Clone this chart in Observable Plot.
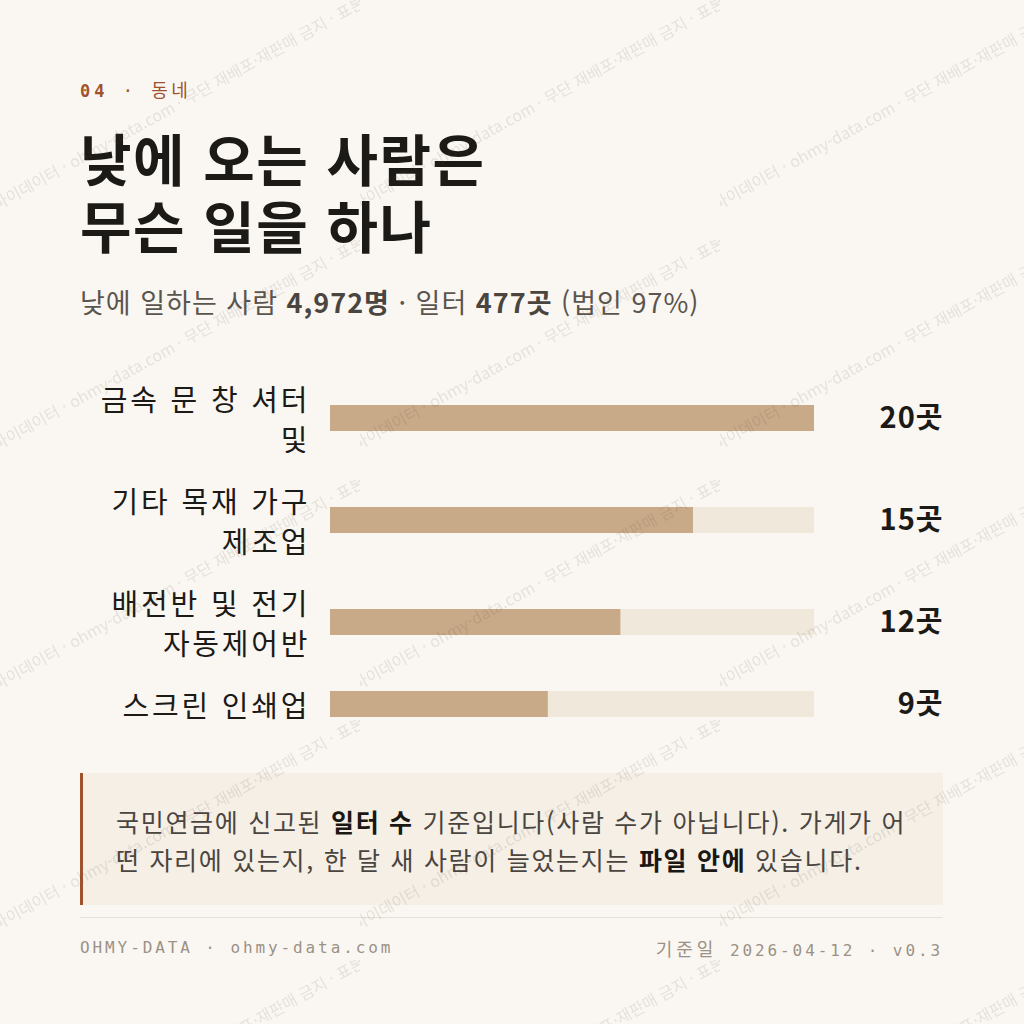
<!DOCTYPE html>
<html lang="ko"><head><meta charset="utf-8">
<script src="https://cdn.jsdelivr.net/npm/d3@7"></script>
<script src="https://cdn.jsdelivr.net/npm/@observablehq/plot@0.6"></script>
<style>
html,body{margin:0;padding:0}
body{width:1024px;height:1024px;background:#faf7f2;font-family:"Noto Sans CJK KR","Noto Sans",sans-serif;position:relative;overflow:hidden;color:#1c1a17}
.abs{position:absolute}
#kicker{left:80px;top:76px;font-size:17px;line-height:26px;color:#a0522d;font-family:"DejaVu Sans Mono",monospace;letter-spacing:4px;white-space:nowrap}
#kicker b{font-weight:700}
#kicker .ko{font-family:"Noto Sans CJK KR",sans-serif;font-weight:400;font-size:18px;letter-spacing:3.5px}
#title{left:80px;top:123px;font-size:56px;line-height:67px;font-weight:700;margin:0;color:#1c1a17;letter-spacing:1.5px}
#sub{left:80px;top:283px;font-size:27px;line-height:38px;color:#5a554e;white-space:nowrap;letter-spacing:1px}
#sub b{color:#4a453f;font-weight:700}
#chart{left:0;top:367px}
#note{left:80px;top:773px;width:863px;height:132px;box-sizing:border-box;background:#f5efe6;border-left:3px solid #a0522d;padding:29px 26px 0 33px;font-size:25px;line-height:38px;color:#4a4540;word-break:break-all;letter-spacing:1.7px}
#note b{color:#1a1714;font-weight:700}
#rule{left:80px;top:917px;width:863px;height:1px;background:#e6e0d6}
#foot{left:80px;top:936px;width:863px;font-family:"DejaVu Sans Mono",monospace;font-size:16px;line-height:24px;color:#9b9186;letter-spacing:2.9px;display:flex;justify-content:space-between;white-space:nowrap}
#foot .ko{font-family:"Noto Sans CJK KR",sans-serif;font-size:18px;letter-spacing:4px}
#wm{left:0;top:0;pointer-events:none}
</style></head>
<body>
<div id="kicker" class="abs"><b>04</b> · <span class="ko">동네</span></div>
<h1 id="title" class="abs">낮에 오는 사람은<br>무슨 일을 하나</h1>
<div id="sub" class="abs">낮에 일하는 사람 <b>4,972명</b> · 일터 <b>477곳</b> (법인 97%)</div>
<div id="chart" class="abs"></div>
<div id="note" class="abs">국민연금에 신고된 <b>일터 수</b> 기준입니다(사람 수가 아닙니다). 가게가 어떤 자리에 있는지, 한 달 새 사람이 늘었는지는 <b>파일 안에</b> 있습니다.</div>
<div id="rule" class="abs"></div>
<div id="foot" class="abs"><span>OHMY-DATA · ohmy-data.com</span><span><span class="ko">기준일</span> 2026-04-12 · v0.3</span></div>
<svg id="wm" class="abs" width="1024" height="1024">
  <defs>
    <pattern id="wmp" patternUnits="userSpaceOnUse" width="360" height="240">
      <text x="-16" y="218" transform="rotate(-29,-16,218)" font-family="Noto Sans CJK KR" font-size="16" fill="rgba(70,55,40,0.12)">오마이데이터 · ohmy-data.com · 무단 재배포·재판매 금지 · 표본</text>
    </pattern>
  </defs>
  <rect width="1024" height="1024" fill="url(#wmp)"/>
</svg>
<script>
// data
const industries = ["금속 문 창 셔터\n및", "기타 목재 가구\n제조업", "배전반 및 전기\n자동제어반", "스크린 인쇄업"];
const counts = [20, 15, 12, 9];
const unit = "곳";

const maxCount = d3.max(counts);
const lineH = 40, gap = 22, barH = 26, ls = 2.8, lsVal = 1;
let acc = 0;
const rows = industries.map((name, i) => {
  const lines = name.split("\n").length;
  const h = lines * lineH + gap;
  const c = acc + h / 2;
  acc += h;
  return {name, value: counts[i], c, y1: c - barH / 2, y2: c + barH / 2};
});
const H = acc;

const plot = Plot.plot({
  width: 1024,
  height: H,
  marginLeft: 330,
  marginRight: 210,
  marginTop: 0,
  marginBottom: 0,
  style: {background: "transparent", fontFamily: "Noto Sans CJK KR, sans-serif", overflow: "visible", letterSpacing: ls + "px"},
  x: {domain: [0, maxCount], axis: null},
  y: {domain: [0, H], range: [0, H], axis: null},
  marks: [
    Plot.rect(rows, {x1: 0, x2: maxCount, y1: "y1", y2: "y2", fill: "#f1e8dc"}),
    Plot.rect(rows, {x1: 0, x2: "value", y1: "y1", y2: "y2", fill: "#c8aa89"}),
    Plot.text(rows, {x: 0, y: "c", text: "name", textAnchor: "end", dx: -23 + ls, fontSize: 29, lineHeight: lineH / 29, fill: "#1c1a17"}),
    Plot.text(rows, {x: maxCount, y: "c", text: d => d.value + unit, textAnchor: "end", dx: 128 + lsVal, fontSize: 29, fontWeight: 700, fill: "#1c1a17"})
  ]
});
const textGroups = plot.querySelectorAll('g[aria-label="text"]');
if (textGroups.length > 1) textGroups[1].style.letterSpacing = lsVal + "px";
document.getElementById("chart").appendChild(plot);
</script>
</body></html>
